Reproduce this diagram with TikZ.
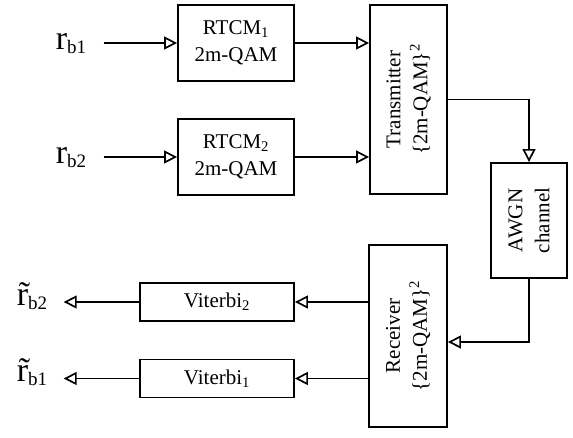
\documentclass[tikz,border=0pt]{standalone}
\usepackage{fontspec}
\setmainfont{Liberation Serif}
\usetikzlibrary{arrows.meta, positioning}

\tikzset{
  blk/.style={draw, line width=1.9pt, inner sep=0pt, font=\fontsize{21}{27}\selectfont, align=center},
  sig/.style={line width=1.7pt, -{Triangle[open, length=13pt, width=13pt]}},
  lbl/.style={inner sep=0pt},
}
\newcommand{\signame}[2]{{\fontsize{34}{34}\selectfont #1}\raisebox{-4pt}{\fontsize{19}{19}\selectfont #2}}

\begin{document}
\begin{tikzpicture}[x=1pt, y=-1pt]
  \useasboundingbox (0,0) rectangle (573,438);

  % modulators
  \node[blk, minimum width=116pt, minimum height=76pt] (rtcmA) at (236,43) {RTCM\textsubscript{1}\\2m-QAM};
  \node[blk, minimum width=116pt, minimum height=76pt] (rtcmB) at (236,157) {RTCM\textsubscript{2}\\2m-QAM};

  % transmitter, channel, receiver
  \node[blk, minimum width=77pt, minimum height=189pt] (tx) at (408.5,99.5) {};
  \node[rotate=90, align=center, font=\fontsize{21}{27}\selectfont] at (tx) {Transmitter\\\{2m-QAM\}\textsuperscript{2}};
  \node[blk, minimum width=76pt, minimum height=115pt] (awgn) at (529,220.5) {};
  \node[rotate=90, align=center, font=\fontsize{21}{27}\selectfont] at (awgn) {AWGN\\channel};
  \node[blk, minimum width=78pt, minimum height=182pt] (rx) at (408,336) {};
  \node[rotate=90, align=center, font=\fontsize{21}{27}\selectfont] at (rx) {Receiver\\\{2m-QAM\}\textsuperscript{2}};

  % decoders
  \node[blk, minimum width=154pt, minimum height=38pt] (vitB) at (217,302) {Viterbi\textsubscript{2}};
  \node[blk, minimum width=154pt, minimum height=38pt] (vitA) at (217,378.5) {Viterbi\textsubscript{1}};

  % signal labels
  \node[lbl] (inA) at (103,43) {};
  \node[lbl] (inB) at (103,157) {};
  \node[lbl] (outB) at (63,302) {};
  \node[lbl] (outA) at (63,378.5) {};
  \node[lbl] (rA) at (71,44) {\signame{r}{b1}};
  \node[lbl] (rB) at (71,158) {\signame{r}{b2}};
  \node[lbl] (sB) at (32,296) {\signame{\~{r}}{b2}};
  \node[lbl] (sA) at (32,372) {\signame{\~{r}}{b1}};

  % connections
  \draw[sig] (inA) -- (rtcmA);
  \draw[sig] (inB) -- (rtcmB);
  \draw[sig] (rtcmA.east) -- (rtcmA.east -| tx.west);
  \draw[sig] (rtcmB.east) -- (rtcmB.east -| tx.west);
  \draw[sig] (tx.east) -| (awgn.north);
  \draw[sig] (awgn.south) |- ([yshift=-6pt]rx.east);
  \draw[sig] (rx.west |- vitB.east) -- (vitB.east);
  \draw[sig] (rx.west |- vitA.east) -- (vitA.east);
  \draw[sig] (vitB.west) -- (outB);
  \draw[sig] (vitA.west) -- (outA);
\end{tikzpicture}
\end{document}
